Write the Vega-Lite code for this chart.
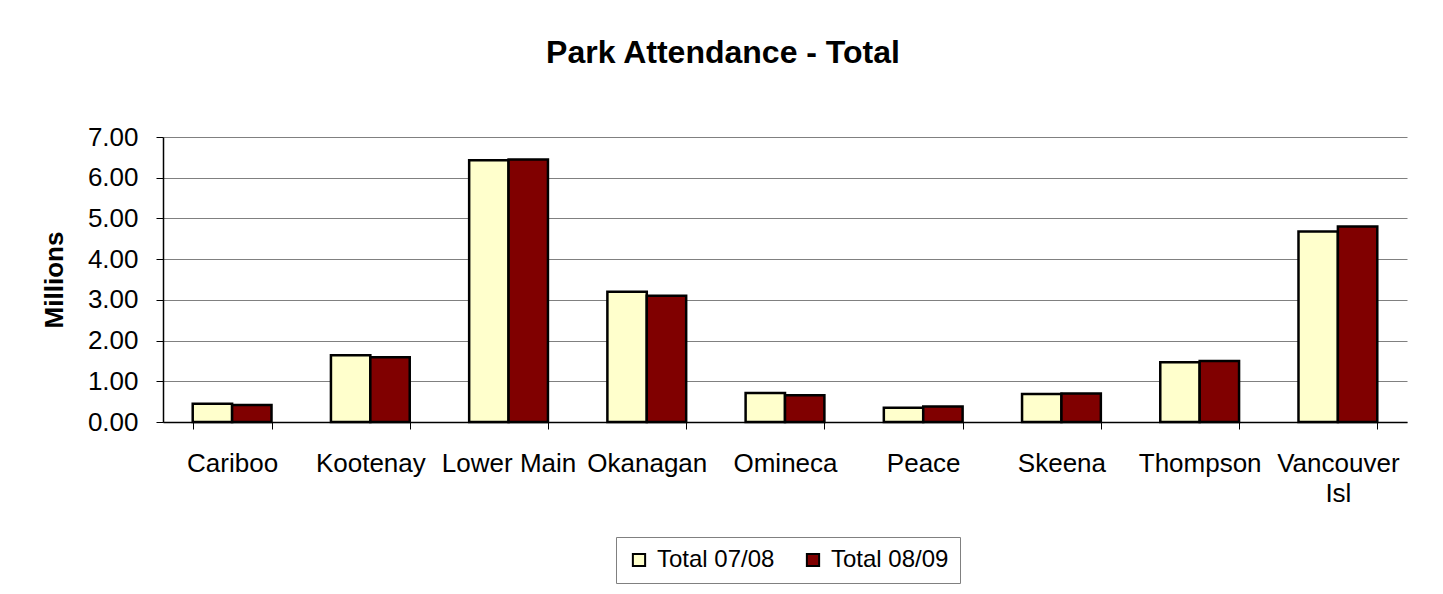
{
  "$schema": "https://vega.github.io/schema/vega-lite/v6.json",
  "width": 1244,
  "height": 285,
  "autosize": "none",
  "padding": {"left": 163, "top": 137, "right": 36, "bottom": 172},
  "background": "white",
  "title": {
    "text": "Park Attendance - Total",
    "font": "Liberation Sans",
    "fontSize": 32,
    "fontWeight": "bold",
    "color": "black",
    "anchor": "middle",
    "dx": -62,
    "offset": 54
  },
  "data": {
    "values": [
      {"region": "Cariboo", "series": "Total 07/08", "value": 0.45},
      {"region": "Cariboo", "series": "Total 08/09", "value": 0.42},
      {"region": "Kootenay", "series": "Total 07/08", "value": 1.64},
      {"region": "Kootenay", "series": "Total 08/09", "value": 1.59},
      {"region": "Lower Main", "series": "Total 07/08", "value": 6.43},
      {"region": "Lower Main", "series": "Total 08/09", "value": 6.45},
      {"region": "Okanagan", "series": "Total 07/08", "value": 3.20},
      {"region": "Okanagan", "series": "Total 08/09", "value": 3.10},
      {"region": "Omineca", "series": "Total 07/08", "value": 0.71},
      {"region": "Omineca", "series": "Total 08/09", "value": 0.66},
      {"region": "Peace", "series": "Total 07/08", "value": 0.35},
      {"region": "Peace", "series": "Total 08/09", "value": 0.38},
      {"region": "Skeena", "series": "Total 07/08", "value": 0.69},
      {"region": "Skeena", "series": "Total 08/09", "value": 0.70},
      {"region": "Thompson", "series": "Total 07/08", "value": 1.47},
      {"region": "Thompson", "series": "Total 08/09", "value": 1.50},
      {"region": "Vancouver Isl", "series": "Total 07/08", "value": 4.68},
      {"region": "Vancouver Isl", "series": "Total 08/09", "value": 4.80}
    ]
  },
  "mark": {"type": "bar", "stroke": "black", "strokeWidth": 2.5},
  "encoding": {
    "x": {
      "field": "region",
      "type": "nominal",
      "sort": null,
      "scale": {"paddingInner": 0.43, "paddingOuter": 0.215},
      "axis": {
        "title": null,
        "labelAngle": 0,
        "labelFont": "Liberation Sans",
        "labelFontSize": 26,
        "labelColor": "black",
        "labelPadding": 21,
        "labelLineHeight": 30,
        "labelExpr": "datum.label == 'Vancouver Isl' ? split(datum.label, ' ') : datum.label",
        "tickBand": "extent",
        "tickSize": 7,
        "tickColor": "black",
        "tickWidth": 1,
        "domainColor": "black",
        "domainWidth": 1.5,
        "grid": false
      }
    },
    "xOffset": {"field": "series", "type": "nominal"},
    "y": {
      "field": "value",
      "type": "quantitative",
      "scale": {"domain": [0, 7], "nice": false},
      "axis": {
        "title": "Millions",
        "titleFont": "Liberation Sans",
        "titleFontSize": 26,
        "titleFontWeight": "bold",
        "titleColor": "black",
        "titlePadding": 20,
        "values": [0, 1, 2, 3, 4, 5, 6, 7],
        "format": ".2f",
        "labelFont": "Liberation Sans",
        "labelFontSize": 26,
        "labelColor": "black",
        "labelPadding": 18,
        "tickSize": 7,
        "tickColor": "black",
        "tickWidth": 1,
        "domainColor": "black",
        "domainWidth": 1.5,
        "grid": true,
        "gridColor": "#808080",
        "gridWidth": 1.2
      }
    },
    "color": {
      "field": "series",
      "type": "nominal",
      "scale": {"domain": ["Total 07/08", "Total 08/09"], "range": ["#FFFFCC", "#800000"]},
      "legend": {
        "title": null,
        "orient": "none",
        "direction": "horizontal",
        "legendX": 453,
        "legendY": 400,
        "strokeColor": "#808080",
        "padding": 11,
        "symbolType": "square",
        "symbolSize": 150,
        "symbolStrokeColor": "black",
        "symbolStrokeWidth": 2,
        "symbolOpacity": 1,
        "labelFont": "Liberation Sans",
        "labelFontSize": 24,
        "labelColor": "black",
        "labelOffset": 6,
        "columnPadding": 26
      }
    }
  },
  "config": {
    "view": {"stroke": null}
  }
}
